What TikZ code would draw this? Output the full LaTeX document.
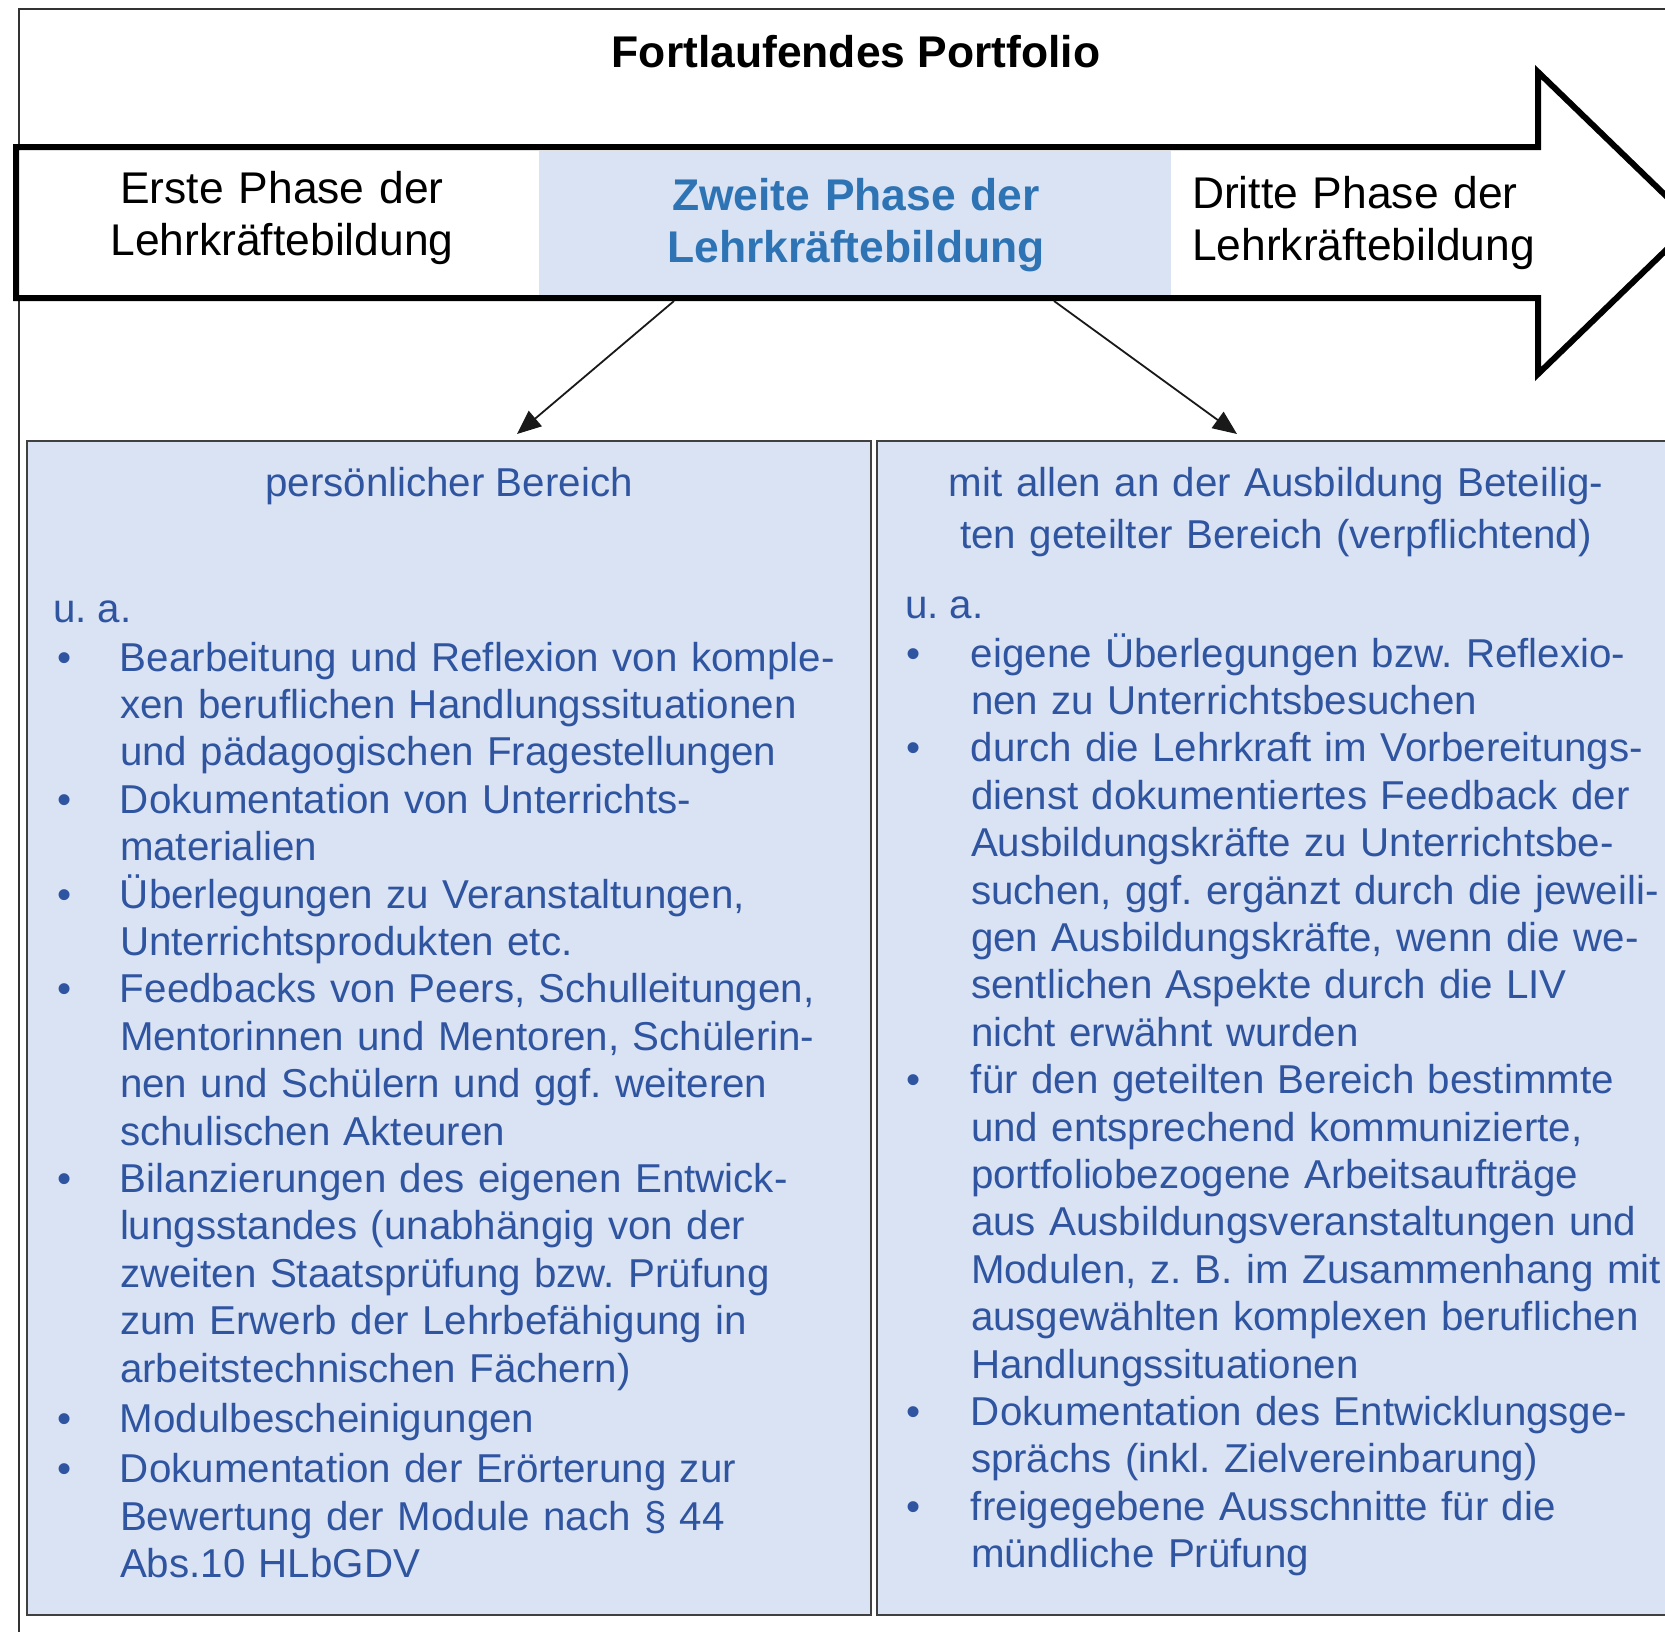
\documentclass[tikz,border=0pt]{standalone}
\usepackage{fontspec}
\setmainfont{Liberation Sans}
\usetikzlibrary{arrows.meta}
\definecolor{fillblue}{HTML}{DAE3F3}
\definecolor{txtblue}{HTML}{2F54A0}
\definecolor{headblue}{HTML}{2E74B5}
\newcommand\bitm[2]{\noindent\hangindent=#1pt\hangafter=1\makebox[#1pt][l]{•}#2\par}
\begin{document}
\frenchspacing
\begin{tikzpicture}[x=1pt,y=-1pt,
  every node/.style={inner sep=0pt, outer sep=0pt},
  bodyfont/.style={font=\fontsize{40.3}{47.4}\selectfont, text=txtblue},
  headfont/.style={font=\fontsize{44.4}{52}\selectfont},
  areabox/.style={draw=black!75, line width=2.5pt, fill=fillblue, anchor=north west},
  conn/.style={-{Triangle[length=24pt,width=20pt]}, line width=1.8pt, draw=black!90}]
\useasboundingbox (0,0) rectangle (1665,1631);
\begin{scope}
\clip (0,0) rectangle (1665,1631);
% outer frame
\draw[line width=2pt, black!80] (19,1650) -- (19,8.5) -- (1690,8.5);
% title
\node[headfont, font=\bfseries\fontsize{44.4}{52}\selectfont, anchor=base] (title) at (856,67) {Fortlaufendes Portfolio};
% big arrow band
\draw[line width=6pt, fill=white, line join=miter, miter limit=10]
  (16,147) -- (1538,147) -- (1538,72) -- (1694,223) -- (1538,374) -- (1538,298) -- (16,298) -- cycle;
\fill[fillblue] (539,150.5) rectangle (1171,294.5);
\node[headfont, text width=430, align=center, anchor=base] (p1) at (282,203) {Erste Phase der\\Lehrkräftebildung};
\node[headfont, font=\bfseries\fontsize{44.4}{52}\selectfont, text=headblue, text width=600, align=center, anchor=base] (p2) at (856,210) {Zweite Phase der\\Lehrkräftebildung};
\node[headfont, text width=400, align=left, anchor=base west] (p3) at (1192,208) {Dritte Phase der\\Lehrkräftebildung};
% area boxes
\node[areabox, minimum width=844, minimum height=1174] (L) at (27,441) {};
\node[areabox, minimum width=820, minimum height=1174] (R) at (877,441) {};
% connectors
\coordinate (a1s) at (674,301);
\coordinate (a1e) at (517,434);
\coordinate (a2s) at (1054,301);
\coordinate (a2e) at (1237,434);
\draw[conn] (a1s) -- (a1e);
\draw[conn] (a2s) -- (a2e);
% left box content
\node[bodyfont, anchor=base] (lt) at (449,496) {persönlicher Bereich};
\node[bodyfont, anchor=base west] (lua) at (53,622) {u. a.};
\node[bodyfont, text width=800, anchor=base west] (llist) at (57,671) {%
\bitm{63}{Bearbeitung und Reflexion von komple-\newline xen beruflichen Handlungssituationen\newline und pädagogischen Fragestellungen}%
\bitm{63}{Dokumentation von Unterrichts-\newline materialien}%
\bitm{63}{Überlegungen zu Veranstaltungen,\newline Unterrichtsprodukten etc.}%
\bitm{63}{Feedbacks von Peers, Schulleitungen,\newline Mentorinnen und Mentoren, Schülerin-\newline nen und Schülern und ggf. weiteren\newline schulischen Akteuren}%
\bitm{63}{Bilanzierungen des eigenen Entwick-\newline lungsstandes (unabhängig von der\newline zweiten Staatsprüfung bzw. Prüfung\newline zum Erwerb der Lehrbefähigung in\newline arbeitstechnischen Fächern)}%
\vspace{3.5pt}%
\bitm{63}{Modulbescheinigungen}%
\vspace{2.5pt}%
\bitm{63}{Dokumentation der Erörterung zur\newline Bewertung der Module nach § 44\newline Abs.10 HLbGDV}}; 
% right box content
\node[bodyfont, font=\fontsize{40.3}{52}\selectfont, text width=800, align=center, anchor=base] (rt) at (1276,496) {mit allen an der Ausbildung Beteilig-\\ten geteilter Bereich (verpflichtend)};
\node[bodyfont, anchor=base west] (rua) at (905,618) {u. a.};
\node[bodyfont, text width=780, anchor=base west] (rlist) at (906,667) {%
\bitm{65}{eigene Überlegungen bzw. Reflexio-\newline nen zu Unterrichtsbesuchen}%
\bitm{65}{durch die Lehrkraft im Vorbereitungs-\newline dienst dokumentiertes Feedback der\newline Ausbildungskräfte zu Unterrichtsbe-\newline suchen, ggf. ergänzt durch die jeweili-\newline gen Ausbildungskräfte, wenn die we-\newline sentlichen Aspekte durch die LIV\newline nicht erwähnt wurden}%
\bitm{65}{für den geteilten Bereich bestimmte\newline und entsprechend kommunizierte,\newline portfoliobezogene Arbeitsaufträge\newline aus Ausbildungsveranstaltungen und\newline Modulen, z. B. im Zusammenhang mit\newline ausgewählten komplexen beruflichen\newline Handlungssituationen}%
\bitm{65}{Dokumentation des Entwicklungsge-\newline sprächs (inkl. Zielvereinbarung)}%
\bitm{65}{freigegebene Ausschnitte für die\newline mündliche Prüfung}};
\end{scope}
\end{tikzpicture}
\end{document}
